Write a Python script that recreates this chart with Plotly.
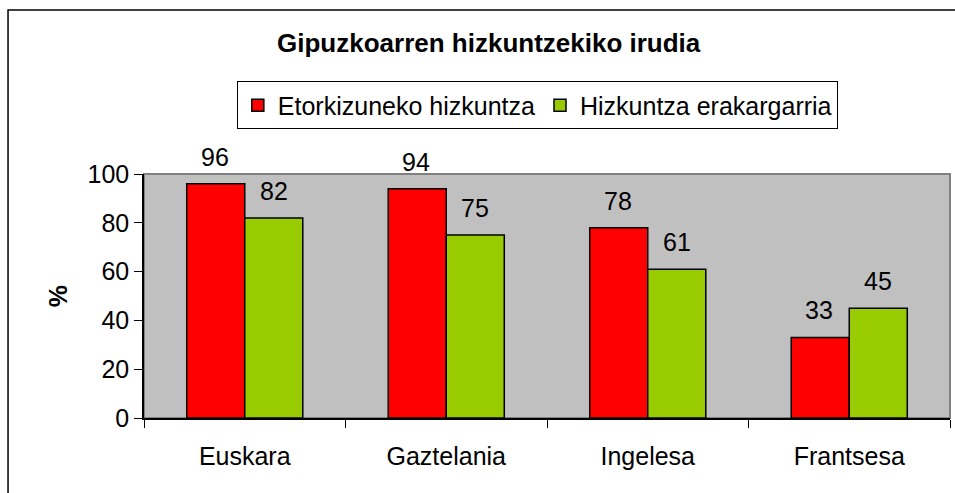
import plotly.graph_objects as go

categories = ["Euskara", "Gaztelania", "Ingelesa", "Frantsesa"]
series_names = ["Etorkizuneko hizkuntza", "Hizkuntza erakargarria"]
etorkizuneko = [96, 94, 78, 33]
erakargarria = [82, 75, 61, 45]
y_ticks = [0, 20, 40, 60, 80, 100]
colors = ["#FF0000", "#99CC00"]

FONT = "Liberation Sans, Arial, sans-serif"
FS = 25

fig = go.Figure()
for name, vals, col in zip(series_names, [etorkizuneko, erakargarria], colors):
    fig.add_trace(go.Bar(
        x=categories, y=vals, name=name,
        marker=dict(color=col, line=dict(color="black", width=1.5)),
    ))

annotations = []
for i, vals in enumerate([etorkizuneko, erakargarria]):
    shift = -30 if i == 0 else 29
    for c, v in zip(categories, vals):
        annotations.append(dict(
            x=c, y=v, xref="x", yref="y", text=str(v), showarrow=False,
            xshift=shift, yanchor="bottom", yshift=11,
            font=dict(family=FONT, size=FS, color="black"),
        ))

annotations.append(dict(
    x=0.428, y=1.537, xref="paper", yref="paper", xanchor="center", yanchor="middle",
    text="<b>Gipuzkoarren hizkuntzekiko irudia</b>", showarrow=False,
    font=dict(family=FONT, size=26, color="black"),
))
fig.update_layout(annotations=annotations)

x0b, y1b, x1b, y0b = -0.1687, 1.672, 1.1, -0.6
fig.update_layout(
    width=955, height=493,
    margin=dict(l=144, r=5, t=174, b=75),
    paper_bgcolor="white", plot_bgcolor="#C0C0C0",
    barmode="group", bargap=0.424, bargroupgap=0,
    font=dict(family=FONT, size=FS, color="black"),
    showlegend=True,
    legend=dict(
        orientation="h", x=0.488, y=1.281, xanchor="center", yanchor="middle",
        bordercolor="black", borderwidth=1, bgcolor="white",
        font=dict(family=FONT, size=FS, color="black"),
        itemwidth=30, tracegroupgap=0,
    ),
    shapes=[
        dict(type="rect", xref="paper", yref="paper", x0=0, x1=1, y0=0, y1=1,
             line=dict(color="#808080", width=2), layer="below"),
        dict(type="path", xref="paper", yref="paper",
             path=f"M {x0b},{y0b} L {x0b},{y1b} L {x1b},{y1b}",
             line=dict(color="black", width=1.5)),
    ],
)

fig.update_xaxes(
    showgrid=False, showline=True, linecolor="black", linewidth=1.5,
    ticks="outside", tickson="boundaries", ticklen=8, tickcolor="black", tickwidth=1,
    ticklabelstandoff=15,
    tickfont=dict(family=FONT, size=FS, color="black"),
)
fig.update_yaxes(
    range=[0, 100], tickvals=y_ticks, showgrid=False, zeroline=False,
    showline=True, linecolor="black", linewidth=1.5,
    ticks="outside", ticklen=8, tickcolor="black", tickwidth=1,
    tickfont=dict(family=FONT, size=FS, color="black"),
    title=dict(text="<b>%</b>", standoff=13, font=dict(family=FONT, size=FS, color="black")),
)

fig.write_html(
    "out.html",
    config={"displayModeBar": False},
    post_script="document.body.style.margin='0';document.body.style.overflow='hidden';",
)
